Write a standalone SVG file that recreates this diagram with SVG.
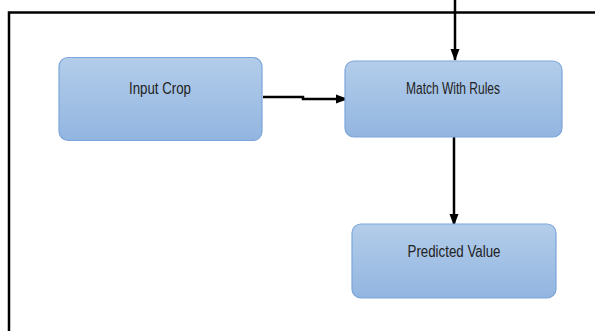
<svg xmlns="http://www.w3.org/2000/svg" width="595" height="331" viewBox="0 0 595 331">
<defs>
<linearGradient id="g" x1="0" y1="0" x2="0" y2="1">
<stop offset="0" stop-color="#b3cdea"/>
<stop offset="1" stop-color="#92b5e0"/>
</linearGradient>
<marker id="ah" markerWidth="12" markerHeight="10" refX="11" refY="5" orient="auto" markerUnits="userSpaceOnUse">
<path d="M0,0.5 L12,5 L0,9.5 Z" fill="#000"/>
</marker>
</defs>
<style>
.box{fill:url(#g);stroke:#7ca6d9;stroke-width:1.2}
.lbl{font-family:"Liberation Sans Narrow","Liberation Sans",Arial,sans-serif;font-size:16px;fill:#222;text-anchor:middle;dominant-baseline:middle}
.ln{fill:none;stroke:#000;stroke-width:2.5}
</style>
<rect width="595" height="331" fill="#fff"/>
<g id="connectors">
<polyline class="ln" points="9,331 9,12.5 595,12.5"/>
<line class="ln" x1="455" y1="0" x2="455" y2="60" marker-end="url(#ah)"/>
<polyline class="ln" points="263,97 303,97 303,99 347,99" marker-end="url(#ah)"/>
<line class="ln" x1="454" y1="137" x2="454" y2="225" marker-end="url(#ah)"/>
</g>
<g id="input-crop">
<rect class="box" x="59" y="57.5" width="203" height="83" rx="9"/>
<text class="lbl" x="160" y="90" textLength="62" lengthAdjust="spacingAndGlyphs">Input Crop</text>
</g>
<g id="match-with-rules">
<rect class="box" x="345" y="61" width="217" height="76" rx="9"/>
<text class="lbl" x="453" y="90" textLength="94" lengthAdjust="spacingAndGlyphs">Match With Rules</text>
</g>
<g id="predicted-value">
<rect class="box" x="352" y="224" width="204" height="74" rx="9"/>
<text class="lbl" x="454" y="253" textLength="93" lengthAdjust="spacingAndGlyphs">Predicted Value</text>
</g>
</svg>
